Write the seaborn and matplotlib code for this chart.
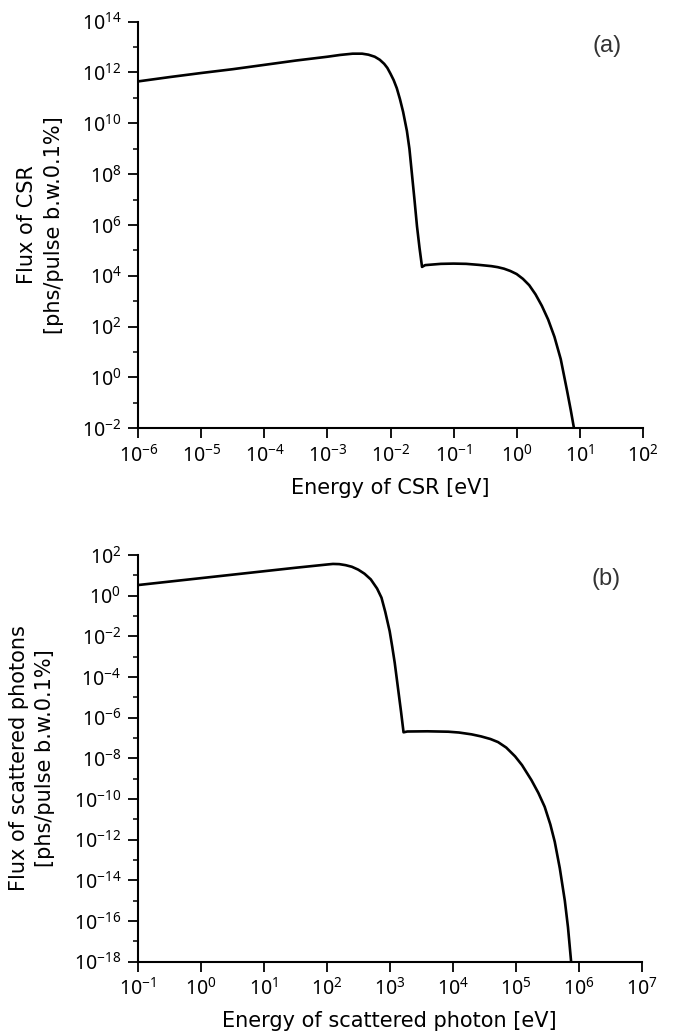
import numpy as np
import seaborn as sns
import matplotlib
matplotlib.use("Agg")
import matplotlib.pyplot as plt
from matplotlib import ticker

# values, as log10 pairs
csr_log_e = [-6.0, -5.5, -5.0, -4.5, -4.0, -3.5, -3.0, -2.8, -2.6, -2.45, -2.35, -2.25,
             -2.17, -2.1, -2.05, -2.0, -1.95, -1.9, -1.85, -1.8, -1.74, -1.7, -1.66,
             -1.62, -1.58, -1.54, -1.5, -1.45, -1.2, -1.0, -0.8, -0.6, -0.4, -0.3,
             -0.2, -0.1, 0.0, 0.1, 0.2, 0.3, 0.4, 0.5, 0.6, 0.7, 0.8, 0.86, 0.91]
csr_log_f = [11.65, 11.82, 11.98, 12.13, 12.30, 12.47, 12.62, 12.69, 12.74, 12.74, 12.70, 12.62,
             12.50, 12.34, 12.18, 11.95, 11.70, 11.38, 10.95, 10.45, 9.7, 9.0, 8.0,
             7.0, 5.95, 5.1, 4.35, 4.42, 4.47, 4.48, 4.47, 4.43, 4.38, 4.34,
             4.28, 4.19, 4.07, 3.88, 3.63, 3.27, 2.82, 2.28, 1.6, 0.72, -0.52, -1.3, -2.0]

sc_log_e = [-1.0, -0.5, 0.0, 0.5, 1.0, 1.5, 2.0, 2.1, 2.2, 2.3, 2.4, 2.5, 2.6, 2.7,
            2.8, 2.87, 2.93, 3.0, 3.04, 3.08, 3.13, 3.18, 3.22, 3.28, 3.6, 3.93, 4.1,
            4.3, 4.45, 4.6, 4.72, 4.85, 4.99, 5.1, 5.25, 5.36, 5.46, 5.55, 5.62, 5.7,
            5.78, 5.83, 5.88]
sc_log_f = [0.52, 0.69, 0.86, 1.03, 1.2, 1.37, 1.53, 1.56, 1.55, 1.5, 1.42, 1.28, 1.08, 0.8,
            0.35, -0.1, -0.8, -1.75, -2.5, -3.3, -4.5, -5.7, -6.72, -6.68, -6.67, -6.69, -6.73,
            -6.82, -6.92, -7.05, -7.2, -7.47, -7.9, -8.33, -9.07, -9.7, -10.38, -11.25, -12.1, -13.4,
            -15.0, -16.3, -18.0]

sns.set_style("ticks")
plt.rcParams["font.family"] = ["Noto Sans", "DejaVu Sans"]
plt.rcParams["mathtext.default"] = "regular"
plt.rcParams["axes.unicode_minus"] = True

fig = plt.figure(figsize=(6.86, 10.36), dpi=100)
ax1 = fig.add_axes([0.2016, 0.5866, 0.7353, 0.3925])
ax2 = fig.add_axes([0.2007, 0.0717, 0.7347, 0.3926])
label_font = ["DejaVu Sans"]


def draw(ax, log_e, log_f, xlim, ylim, xlabel, ylabel, tag):
    sns.lineplot(x=10 ** np.array(log_e), y=10 ** np.array(log_f), ax=ax,
                 color="black", linewidth=1.9, sort=False)
    ax.set_xscale("log")
    ax.set_yscale("log")
    ax.set_xlim(*xlim)
    ax.set_ylim(*ylim)
    ax.xaxis.set_major_locator(ticker.LogLocator(base=10, numticks=30))
    ax.xaxis.set_minor_locator(ticker.NullLocator())
    ax.yaxis.set_major_locator(ticker.LogLocator(base=100, numticks=30))
    ax.yaxis.set_minor_locator(ticker.LogLocator(base=100, subs=(10.0,), numticks=30))
    ax.yaxis.set_minor_formatter(ticker.NullFormatter())
    ax.tick_params(which="major", direction="out", length=7, width=1.3,
                   labelsize=14, colors="black", pad=5)
    ax.tick_params(which="minor", direction="out", length=3.5, width=1.3)
    for s in ["left", "bottom"]:
        ax.spines[s].set_linewidth(1.5)
        ax.spines[s].set_color("black")
    sns.despine(ax=ax)
    ax.set_xlabel(xlabel, fontsize=15, labelpad=8, family=label_font, color="black")
    ax.set_ylabel(ylabel, fontsize=15, labelpad=13, linespacing=1.4,
                  family=label_font, color="black")
    ax.text(0.929, 0.94, tag, transform=ax.transAxes, ha="center", va="center",
            fontsize=17, color="#333333", family=["Liberation Sans", "DejaVu Sans"])


draw(ax1, csr_log_e, csr_log_f, (1e-6, 1e2), (1e-2, 1e14),
     "Energy of CSR [eV]", "Flux of CSR\n[phs/pulse b.w.0.1%]", "(a)")
draw(ax2, sc_log_e, sc_log_f, (1e-1, 1e7), (1e-18, 1e2),
     "Energy of scattered photon [eV]", "Flux of scattered photons\n[phs/pulse b.w.0.1%]", "(b)")

fig.savefig("out.png", dpi=100)
